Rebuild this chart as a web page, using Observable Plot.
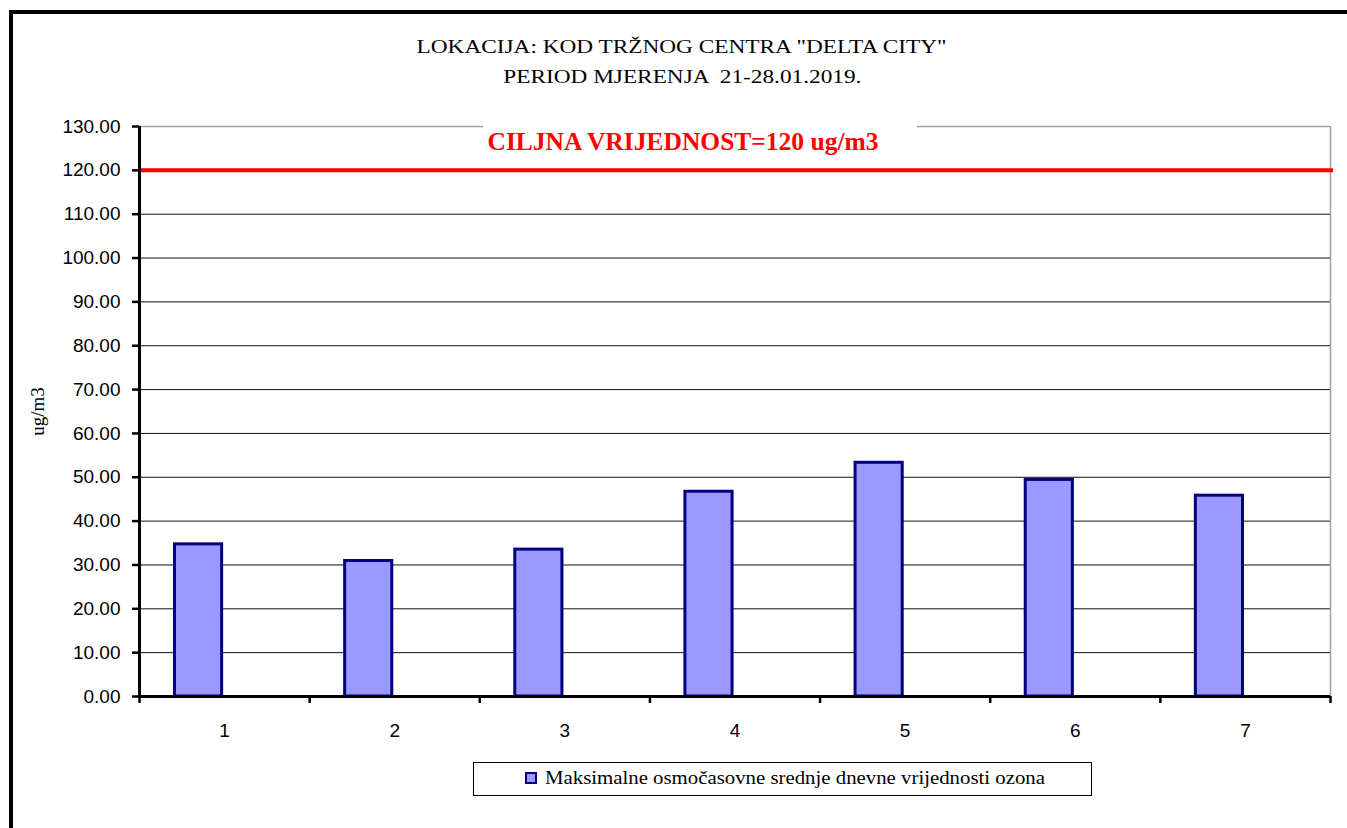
<!DOCTYPE html>
<html>
<head>
<meta charset="utf-8">
<script src="https://cdn.jsdelivr.net/npm/d3@7"></script>
<script src="https://cdn.jsdelivr.net/npm/@observablehq/plot@0.6"></script>
<style>
  html, body { margin: 0; padding: 0; background: #fff; overflow: hidden; }
  #page { position: relative; width: 1347px; height: 828px; overflow: hidden; background: #fff; }
  #frame { position: absolute; left: 9px; top: 10px; width: 2000px; height: 2000px;
           border-left: 4px solid #000; border-top: 4px solid #000; z-index: 5; pointer-events: none; }
  #title { position: absolute; left: 0; top: 32px; width: 1364px; text-align: center;
           font-family: "Liberation Serif", "Times New Roman", serif; font-size: 18.5px; line-height: 30px; color: #000; }
  #title span { display: inline-block; transform-origin: center; white-space: pre; }
  #chart { position: absolute; left: 0; top: 100px; }
  #legend { position: absolute; left: 473px; top: 762px; width: 619px; height: 34px; box-sizing: border-box;
            border: 1px solid #000; }
  #legend .sw { position: absolute; left: 51px; top: 9px; width: 12px; height: 12px; box-sizing: border-box;
                background: #9999ff; border: 2px solid #000080; }
  #legend .lb { position: absolute; left: 71px; top: 5px; font-family: "Liberation Serif", "Times New Roman", serif;
                font-size: 18.5px; line-height: 20px; white-space: pre; transform-origin: left center; display: inline-block; }
</style>
</head>
<body>
<div id="page">
  <div id="title"></div>
  <div id="chart"></div>
  <div id="legend"><div class="sw"></div><span class="lb"></span></div>
  <div id="frame"></div>
</div>
<script>
// ---- data ----
const titleLines = ["LOKACIJA: KOD TRŽNOG CENTRA \"DELTA CITY\"", "PERIOD MJERENJA  21-28.01.2019."];
const days = [1, 2, 3, 4, 5, 6, 7];
const ozone = [34.7, 30.9, 33.5, 46.7, 53.3, 49.4, 45.8];
const yTicks = [0, 10, 20, 30, 40, 50, 60, 70, 80, 90, 100, 110, 120, 130];
const target = 120;
const targetLabel = "CILJNA VRIJEDNOST=120 ug/m3";
const yLabel = "ug/m3";
const legendLabel = "Maksimalne osmočasovne srednje dnevne vrijednosti ozona";

// ---- derived table ----
const table = days.map((d, i) => ({day: d, value: ozone[i]}));
const boundaries = [...days.map(d => d - 0.5), days[days.length - 1] + 0.5];
const yMax = yTicks[yTicks.length - 1];
const gridTicks = yTicks.filter(v => v > 0 && v < yMax && v !== target);

// ---- title ----
const titleEl = document.getElementById("title");
const titleWidths = [530, 358];
titleLines.forEach((t, i) => {
  const s = document.createElement("span");
  s.textContent = t;
  titleEl.appendChild(s);
  titleEl.appendChild(document.createElement("br"));
});

// ---- chart ----
const chart = Plot.plot({
  width: 1347,
  height: 660,
  marginTop: 26,
  marginBottom: 64,
  marginLeft: 139,
  marginRight: 17,
  style: {background: "transparent", fontFamily: "Liberation Sans, Arial, sans-serif", fontSize: "19px", color: "#000", overflow: "visible"},
  x: {type: "linear", domain: [boundaries[0], boundaries[boundaries.length - 1]]},
  y: {domain: [0, yMax]},
  marks: [
    Plot.gridY(gridTicks, {stroke: "#111", strokeOpacity: 1, strokeWidth: 1}),
    // plot-area border (top, split around the label box, and right)
    Plot.ruleY([yMax], {stroke: "#a0a0a0", strokeWidth: 1.5, insetRight: 847}),
    Plot.ruleY([yMax], {stroke: "#a0a0a0", strokeWidth: 1.5, insetLeft: 778}),
    Plot.ruleX([boundaries[boundaries.length - 1]], {stroke: "#a0a0a0", strokeWidth: 1.5}),
    // bars
    Plot.rectY(table, {
      x1: d => d.day - 0.5, x2: d => d.day + 0.5, y1: 0, y2: "value",
      insetLeft: 35.5, insetRight: 87.5,
      fill: "#9999ff", stroke: "#000080", strokeWidth: 3
    }),
    // target line + label
    Plot.ruleY([target], {stroke: "#ff0000", strokeWidth: 4, insetRight: -3}),
    Plot.text([targetLabel], {frameAnchor: "top", lineAnchor: "middle", textAnchor: "middle", dy: 15, dx: -52,
      fill: "#ff0000", fontWeight: "bold", fontSize: 25.5, fontFamily: "Liberation Serif, Times New Roman, serif"}),
    // axes lines
    Plot.ruleX([boundaries[0]], {stroke: "#000", strokeWidth: 3}),
    Plot.ruleY([0], {stroke: "#000", strokeWidth: 3}),
    Plot.axisY({ticks: yTicks, tickFormat: d => d.toFixed(2), tickSize: 7, tickPadding: 12, strokeWidth: 2.5, label: null}),
    Plot.axisX({ticks: boundaries, tickFormat: () => "", tickSize: 7, strokeWidth: 2.5, label: null}),
    Plot.axisX({ticks: days, tickFormat: d => String(d), tickSize: 0, tickPadding: 27, label: null}),
    Plot.text([yLabel], {frameAnchor: "left", rotate: -90, textAnchor: "middle", lineAnchor: "middle", dx: -102,
      fontSize: 19, fontFamily: "Liberation Serif, Times New Roman, serif", fill: "#000"})
  ]
});
document.getElementById("chart").appendChild(chart);

// ---- legend ----
document.querySelector("#legend .lb").textContent = legendLabel;

// stretch text horizontally to match the reference widths
const spans = titleEl.querySelectorAll("span");
spans.forEach((s, i) => {
  const w = s.getBoundingClientRect().width;
  s.style.transform = `scaleX(${titleWidths[i] / w})`;
});
const lb = document.querySelector("#legend .lb");
const lw = lb.getBoundingClientRect().width;
lb.style.transform = `scaleX(${500 / lw})`;
</script>
</body>
</html>
